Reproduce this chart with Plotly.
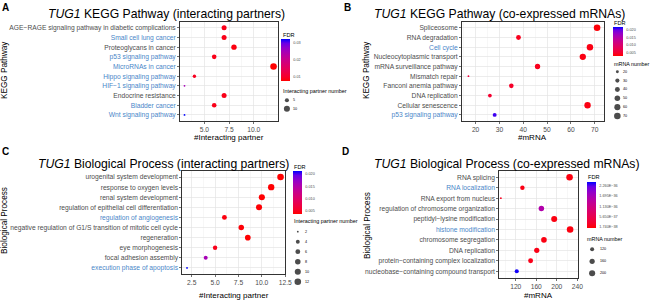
import math
import plotly.graph_objects as go

W, H = 658, 302

# ---------------- data ----------------
a_terms = ["AGE−RAGE signaling pathway in diabetic complications", "Small cell lung cancer",
           "Proteoglycans in cancer", "p53 signaling pathway", "MicroRNAs in cancer",
           "Hippo signaling pathway", "HIF−1 signaling pathway", "Endocrine resistance",
           "Bladder cancer", "Wnt signaling pathway"]
a_highlight = [False, True, False, True, True, True, True, False, True, True]
a_count = [7, 7, 8, 6, 12, 4, 3, 7, 6, 3]
a_fdr = [0.0090, 0.0090, 0.0085, 0.0090, 0.0076, 0.0095, 0.0250, 0.0090, 0.0090, 0.0324]
a_fdr_ticks = [0.01, 0.02, 0.03]
a_fdr_labels = ["0.01", "0.02", "0.03"]
a_size_breaks = [5, 10]

b_terms = ["Spliceosome", "RNA degradation", "Cell cycle", "Nucleocytoplasmic transport",
           "mRNA surveillance pathway", "Mismatch repair", "Fanconi anemia pathway",
           "DNA replication", "Cellular senescence", "p53 signaling pathway"]
b_highlight = [False, False, True, False, False, False, False, False, False, True]
b_count = [71, 38, 68, 65, 46, 17, 35, 26, 67, 28]
b_fdr = [0.0030, 0.0040, 0.0035, 0.0035, 0.0040, 0.0060, 0.0045, 0.0050, 0.0035, 0.0209]
b_fdr_ticks = [0.005, 0.010, 0.015, 0.020]
b_fdr_labels = ["0.005", "0.010", "0.015", "0.020"]
b_size_breaks = [20, 30, 40, 50, 60, 70]

c_terms = ["urogenital system development", "response to oxygen levels", "renal system development",
           "regulation of epithelial cell differentiation", "regulation of angiogenesis",
           "negative regulation of G1/S transition of mitotic cell cycle", "regeneration",
           "eye morphogenesis", "focal adhesion assembly", "execution phase of apoptosis"]
c_highlight = [False, False, False, False, True, False, False, False, False, True]
c_count = [12, 11, 10, 9.7, 6, 7.8, 8.5, 5, 4, 2]
c_fdr = [0.0039, 0.0040, 0.0040, 0.0041, 0.0045, 0.0042, 0.0040, 0.0050, 0.0160, 0.0213]
c_fdr_ticks = [0.005, 0.010, 0.015, 0.020]
c_fdr_labels = ["0.005", "0.010", "0.015", "0.020"]
c_size_breaks = [2, 4, 6, 8, 10, 12]

d_terms = ["RNA splicing", "RNA localization", "RNA export from nucleus",
           "regulation of chromosome organization", "peptidyl−lysine modification",
           "histone modification", "chromosome segregation", "DNA replication",
           "protein−containing complex localization", "nucleobase−containing compound transport"]
d_highlight = [False, True, False, False, False, True, False, False, False, False]
d_count = [225, 133, 91, 170, 195, 226, 175, 161, 149, 122]
d_fdr = [1.74e-38, 5e-38, 1.2e-37, 1.55e-36, 3e-38, 2e-38, 4e-38, 6e-38, 8e-38, 2.40e-36]
d_fdr_ticks = [1.74e-38, 5.65e-37, 1.13e-36, 1.695e-36, 2.26e-36]
d_fdr_labels = ["1.740E−38", "5.650E−37", "1.130E−36", "1.695E−36", "2.260E−36"]
d_size_breaks = [120, 160, 200]

# ---------------- helpers ----------------
def px_x(p):
    return p / W

def px_y(p):
    return 1 - p / H

def _lin(c):
    return c / 12.92 if c <= 0.04045 else ((c + 0.055) / 1.055) ** 2.4

def _delin(c):
    return 12.92 * c if c <= 0.0031308 else 1.055 * c ** (1 / 2.4) - 0.055

WN = (0.95047, 1.0, 1.08883)

def hex_to_lab(h):
    r, g, b = [_lin(int(h[i:i + 2], 16) / 255) for i in (1, 3, 5)]
    X = 0.4124 * r + 0.3576 * g + 0.1805 * b
    Y = 0.2126 * r + 0.7152 * g + 0.0722 * b
    Z = 0.0193 * r + 0.1192 * g + 0.9505 * b
    f = lambda t: t ** (1 / 3) if t > 0.008856 else 7.787 * t + 16 / 116
    fx_, fy_, fz_ = f(X / WN[0]), f(Y / WN[1]), f(Z / WN[2])
    return (116 * fy_ - 16, 500 * (fx_ - fy_), 200 * (fy_ - fz_))

def lab_to_hex(L, a, b):
    fy_ = (L + 16) / 116
    fx_ = fy_ + a / 500
    fz_ = fy_ - b / 200
    finv = lambda t: t ** 3 if t ** 3 > 0.008856 else (t - 16 / 116) / 7.787
    X, Y, Z = finv(fx_) * WN[0], finv(fy_) * WN[1], finv(fz_) * WN[2]
    r = 3.2406 * X - 1.5372 * Y - 0.4986 * Z
    g = -0.9689 * X + 1.8758 * Y + 0.0415 * Z
    bb = 0.0557 * X - 0.2040 * Y + 1.0570 * Z
    out = []
    for c in (r, g, bb):
        c = min(1, max(0, _delin(min(1, max(0, c)))))
        out.append(int(round(c * 255)))
    return "#%02x%02x%02x" % tuple(out)

lab_lo, lab_hi = hex_to_lab("#ff0000"), hex_to_lab("#0000ff")
colorscale = []
for i in range(11):
    t = i / 10
    lab = [lab_lo[k] + (lab_hi[k] - lab_lo[k]) * t for k in range(3)]
    colorscale.append([t, lab_to_hex(*lab)])

DMIN, DMAX = 1.8, 6.6

def diam(v, vmin, vmax):
    t = max(0.0, (v - vmin) / (vmax - vmin))
    return DMIN + (DMAX - DMIN) * math.sqrt(t)

FONT = "Liberation Sans, Arial, sans-serif"
TXT = "#4D4D4D"
BLUE = "#4A86C8"
GRID = "#E4E4E4"
GRIDMIN = "#F0F0F0"
LINE = "#333333"

fig = go.Figure()
annotations = []

def ann(text, x, y, size, color="black", xanchor="center", yanchor="middle", angle=0, bold=False):
    if bold:
        text = "<b>" + text + "</b>"
    annotations.append(dict(text=text, x=px_x(x), y=px_y(y), xref="paper", yref="paper",
                            showarrow=False, xanchor=xanchor, yanchor=yanchor, textangle=angle,
                            borderpad=0, font=dict(size=size, color=color, family=FONT)))

panels = [
    dict(terms=a_terms, hl=a_highlight, cnt=a_count, fdr=a_fdr, ticks=a_fdr_ticks, tlabels=a_fdr_labels,
         breaks=a_size_breaks, box=(182, 281, 22, 120.7), dtick=2.5, fmt=".1f",
         title="<i>TUG1</i> KEGG Pathway (interacting partners)", tcx=168, tcy=14,
         letter="A", lx=6, ly=7, ytitle="KEGG Pathway", ytx=5, yty=70,
         xtitle="#Interacting partner", xty=137,
         cb=(284, 9, 39, 42, 0.0076, 0.0324), fdrt=(285, 34.7),
         lt=(285, 90.7, "Interacting partner number"), ld=(290, 100.3, 8.4), llx=295),
    dict(terms=b_terms, hl=b_highlight, cnt=b_count, fdr=b_fdr, ticks=b_fdr_ticks, tlabels=b_fdr_labels,
         breaks=b_size_breaks, box=(467, 610, 22, 120.7), dtick=10, fmt="d",
         title="<i>TUG1</i> KEGG Pathway (co-expressed mRNAs)", tcx=505, tcy=14,
         letter="B", lx=351, ly=7, ytitle="KEGG Pathway", ytx=371, yty=70,
         xtitle="#mRNA", xty=137,
         cb=(620, 10, 27, 28.5, 0.00261, 0.02205), fdrt=(620, 22.7),
         lt=(619.5, 64.3, "mRNA number"), ld=(624, 71.7, 8.86), llx=629),
    dict(terms=c_terms, hl=c_highlight, cnt=c_count, fdr=c_fdr, ticks=c_fdr_ticks, tlabels=c_fdr_labels,
         breaks=c_size_breaks, box=(184.3, 288.3, 171, 274), dtick=2.5, fmt=".1f",
         title="<i>TUG1</i> Biological Process (interacting partners)", tcx=165, tcy=163.5,
         letter="C", lx=6, ly=151, ytitle="Biological Process", ytx=5, yty=220,
         xtitle="#Interacting partner", xty=295.5,
         cb=(296, 9, 170.7, 43.3, 0.00391, 0.02133), fdrt=(296, 167),
         lt=(296, 221, "Interacting partner number"), ld=(301, 231.7, 10), llx=307),
    dict(terms=d_terms, hl=d_highlight, cnt=d_count, fdr=d_fdr, ticks=d_fdr_ticks, tlabels=d_fdr_labels,
         breaks=d_size_breaks, box=(504.7, 584, 171, 277.5), dtick=40, fmt="d",
         title="<i>TUG1</i> Biological Process (co-expressed mRNAs)", tcx=512, tcy=164,
         letter="D", lx=349, ly=151, ytitle="Biological Process", ytx=371, yty=226,
         xtitle="#mRNA", xty=295.5,
         cb=(593, 9, 182.3, 46, -7.0e-38, 2.446e-36), fdrt=(593, 177.5),
         lt=(592, 239.3, "mRNA number"), ld=(598.5, 249.3, 12), llx=605),
]

xranges = [[2.55, 12.45], [14.3, 73.7], [1.5, 12.501], [88, 241]]

layout_axes = {}
for k, p in enumerate(panels):
    i = k + 1
    sfx = "" if i == 1 else str(i)
    n = len(p["terms"])
    vmin, vmax = min(p["cnt"]), max(p["cnt"])
    sizes = [diam(v, vmin, vmax) for v in p["cnt"]]
    ca = "coloraxis" + sfx
    fig.add_trace(go.Scatter(
        x=p["cnt"], y=list(range(n)), mode="markers",
        marker=dict(size=sizes, color=p["fdr"], coloraxis=ca, line=dict(width=0), opacity=1),
        xaxis="x" + sfx, yaxis="y" + sfx, hoverinfo="skip", showlegend=False))
    l, r, t, b = p["box"]
    ticktext = [('<span style="color:%s">%s</span>' % (BLUE, s)) if h else s
                for s, h in zip(p["terms"], p["hl"])]
    layout_axes["xaxis" + sfx] = dict(
        domain=[px_x(l), px_x(r)], anchor="y" + sfx, range=xranges[k],
        tickmode="linear", tick0=0, dtick=p["dtick"], tickformat=p["fmt"],
        showgrid=True, gridcolor=GRID, gridwidth=0.7, zeroline=False,
        minor=dict(tickmode="linear", tick0=0, dtick=p["dtick"] / 2, showgrid=True,
                   gridcolor=GRIDMIN, gridwidth=0.5),
        showline=True, mirror=True, linecolor=LINE, linewidth=1,
        ticks="outside", ticklen=2, tickwidth=0.7, tickcolor=LINE,
        tickfont=dict(size=6.7, color=TXT, family=FONT), fixedrange=True)
    layout_axes["yaxis" + sfx] = dict(
        domain=[px_y(b), px_y(t)], anchor="x" + sfx, range=[n - 0.4, -0.6],
        tickmode="array", tickvals=list(range(n)), ticktext=ticktext,
        showgrid=True, gridcolor=GRID, gridwidth=0.7, zeroline=False,
        showline=True, mirror=True, linecolor=LINE, linewidth=1,
        ticks="outside", ticklen=2, tickwidth=0.7, tickcolor=LINE,
        tickfont=dict(size=6.7, color=TXT, family=FONT), fixedrange=True)

    cx, cth, cy, clen, cmin, cmax = p["cb"]
    layout_axes[ca] = dict(
        cmin=cmin, cmax=cmax, colorscale=colorscale,
        colorbar=dict(x=px_x(cx), xanchor="left", y=px_y(cy), yanchor="top",
                      len=clen, lenmode="pixels", thickness=cth, thicknessmode="pixels",
                      xpad=0, ypad=0, outlinewidth=0, borderwidth=0,
                      tickmode="array", tickvals=p["ticks"], ticktext=p["tlabels"],
                      ticks="outside", ticklen=3, tickcolor="rgba(0,0,0,0)",
                      tickfont=dict(size=3.8, color=TXT, family=FONT)))

    # size legend
    li = i + 4
    lx, ly0, lsp = p["ld"]
    nb = len(p["breaks"])
    fig.add_trace(go.Scatter(
        x=[0] * nb, y=list(range(nb)), mode="markers",
        marker=dict(size=[diam(v, vmin, vmax) for v in p["breaks"]], color="black", line=dict(width=0)),
        xaxis="x%d" % li, yaxis="y%d" % li, hoverinfo="skip", showlegend=False))
    layout_axes["xaxis%d" % li] = dict(domain=[px_x(lx - 6), px_x(lx + 6)], range=[-1, 1],
                                       visible=False, anchor="y%d" % li, fixedrange=True)
    layout_axes["yaxis%d" % li] = dict(domain=[px_y(ly0 + (nb - 0.5) * lsp), px_y(ly0 - 0.5 * lsp)],
                                       range=[nb - 0.5, -0.5], visible=False, anchor="x%d" % li,
                                       fixedrange=True)
    for j, v in enumerate(p["breaks"]):
        ann(str(v), p["llx"], ly0 + j * lsp, 3.7, color="black", xanchor="left")

    # texts
    ann(p["title"], p["tcx"], p["tcy"], 12.2, color="black")
    ann(p["letter"], p["lx"], p["ly"], 10, color="black", bold=True)
    ann(p["ytitle"], p["ytx"], p["yty"], 8.2, color="black", angle=-90)
    ann(p["xtitle"], (l + r) / 2, p["xty"], 8.0, color="black")
    ann("FDR", p["fdrt"][0], p["fdrt"][1], 5.6, color="black", xanchor="left")
    ann(p["lt"][2], p["lt"][0], p["lt"][1], 5.4, color="black", xanchor="left")

fig.update_layout(
    width=W, height=H, margin=dict(l=0, r=0, t=0, b=0),
    paper_bgcolor="white", plot_bgcolor="white",
    showlegend=False, hovermode=False,
    font=dict(family=FONT),
    annotations=annotations,
    **layout_axes)

fig.write_html("out.html", config={"displayModeBar": False, "staticPlot": True},
               post_script="document.body.style.margin='0px';document.body.style.padding='0px';")
